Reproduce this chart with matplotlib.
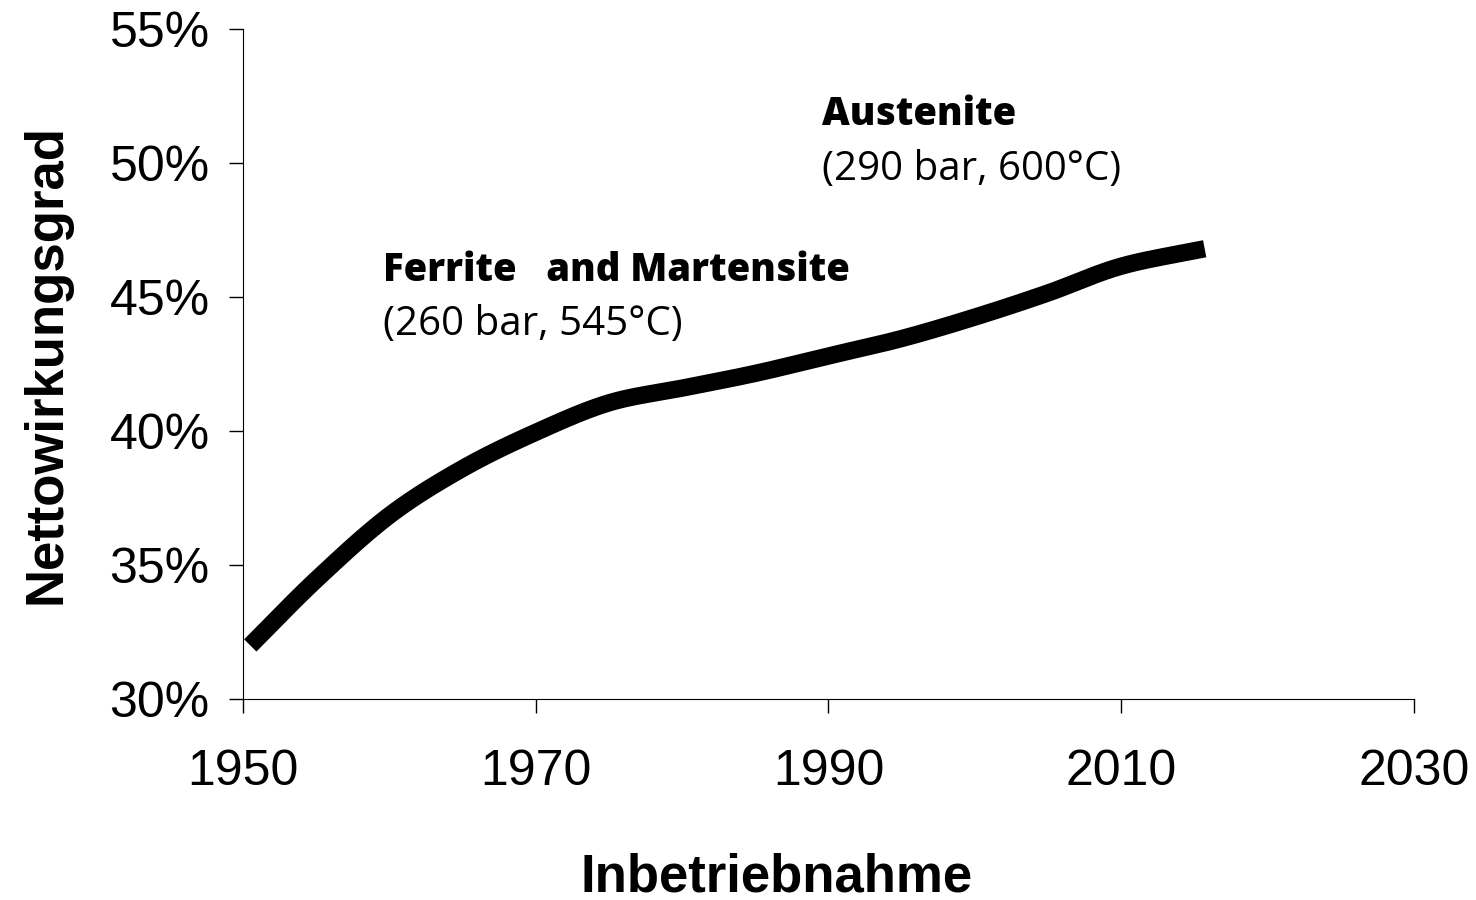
import matplotlib
matplotlib.use("Agg")
import numpy as np
import matplotlib.pyplot as plt
from matplotlib.ticker import FuncFormatter

# Werte
jahre = [1950.5, 1955, 1960, 1965, 1970, 1975, 1980, 1985, 1990, 1995, 2000, 2005, 2010, 2015.7]
wirkungsgrad = [32.0, 34.45, 36.85, 38.6, 39.95, 41.05, 41.6, 42.15, 42.8, 43.45, 44.25, 45.15, 46.15, 46.8]
x_ticks = [1950, 1970, 1990, 2010, 2030]
y_ticks = [30, 35, 40, 45, 50, 55]


def glatt(x, y, n=30):
    x = np.asarray(x, float)
    y = np.asarray(y, float)
    px = np.concatenate([[2 * x[0] - x[1]], x, [2 * x[-1] - x[-2]]])
    py = np.concatenate([[2 * y[0] - y[1]], y, [2 * y[-1] - y[-2]]])
    xs, ys = [], []
    t = np.linspace(0, 1, n, endpoint=False)
    for i in range(1, len(px) - 2):
        for p, out in ((px, xs), (py, ys)):
            p0, p1, p2, p3 = p[i - 1], p[i], p[i + 1], p[i + 2]
            out.extend(0.5 * (2 * p1 + (-p0 + p2) * t + (2 * p0 - 5 * p1 + 4 * p2 - p3) * t ** 2
                              + (-p0 + 3 * p1 - 3 * p2 + p3) * t ** 3))
    xs.append(x[-1])
    ys.append(y[-1])
    return xs, ys


plt.rcParams['font.family'] = ['Liberation Sans', 'DejaVu Sans']

fig = plt.figure(figsize=(14.76, 9), dpi=100)
ax = fig.add_axes([0.1646, 0.2233, 0.7934, 0.7445])

kx, ky = glatt(jahre, wirkungsgrad)
ax.plot(kx, ky, color='black', lw=12.5, solid_capstyle='butt', solid_joinstyle='round')

ax.set_xlim(1950, 2030)
ax.set_ylim(30, 55)
ax.set_xticks(x_ticks)
ax.set_yticks(y_ticks)
ax.yaxis.set_major_formatter(FuncFormatter(lambda v, p: f"{v:.0f}%"))
ax.tick_params(direction='out', length=10, width=1, labelsize=36)
ax.tick_params(axis='x', pad=26)
ax.tick_params(axis='y', pad=14)
ax.spines['top'].set_visible(False)
ax.spines['right'].set_visible(False)

ax.set_xlabel('Inbetriebnahme', fontsize=38, fontweight='bold', va='center')
ax.xaxis.set_label_coords(0.456, -0.266)
ax.set_ylabel('Nettowirkungsgrad', fontsize=38, fontweight='bold', labelpad=27)

ann = dict(family=['Open Sans', 'DejaVu Sans'], va='baseline', ha='left')
ax.text(1959.6, 45.6, 'Ferrite   and Martensite', fontsize=27.5, fontweight=800, **ann)
ax.text(1959.6, 43.6, '(260 bar, 545°C)', fontsize=29, **ann)
ax.text(1989.55, 51.4, 'Austenite', fontsize=27.5, fontweight=800, **ann)
ax.text(1989.55, 49.35, '(290 bar, 600°C)', fontsize=29, **ann)

fig.savefig('out.png', dpi=100)
